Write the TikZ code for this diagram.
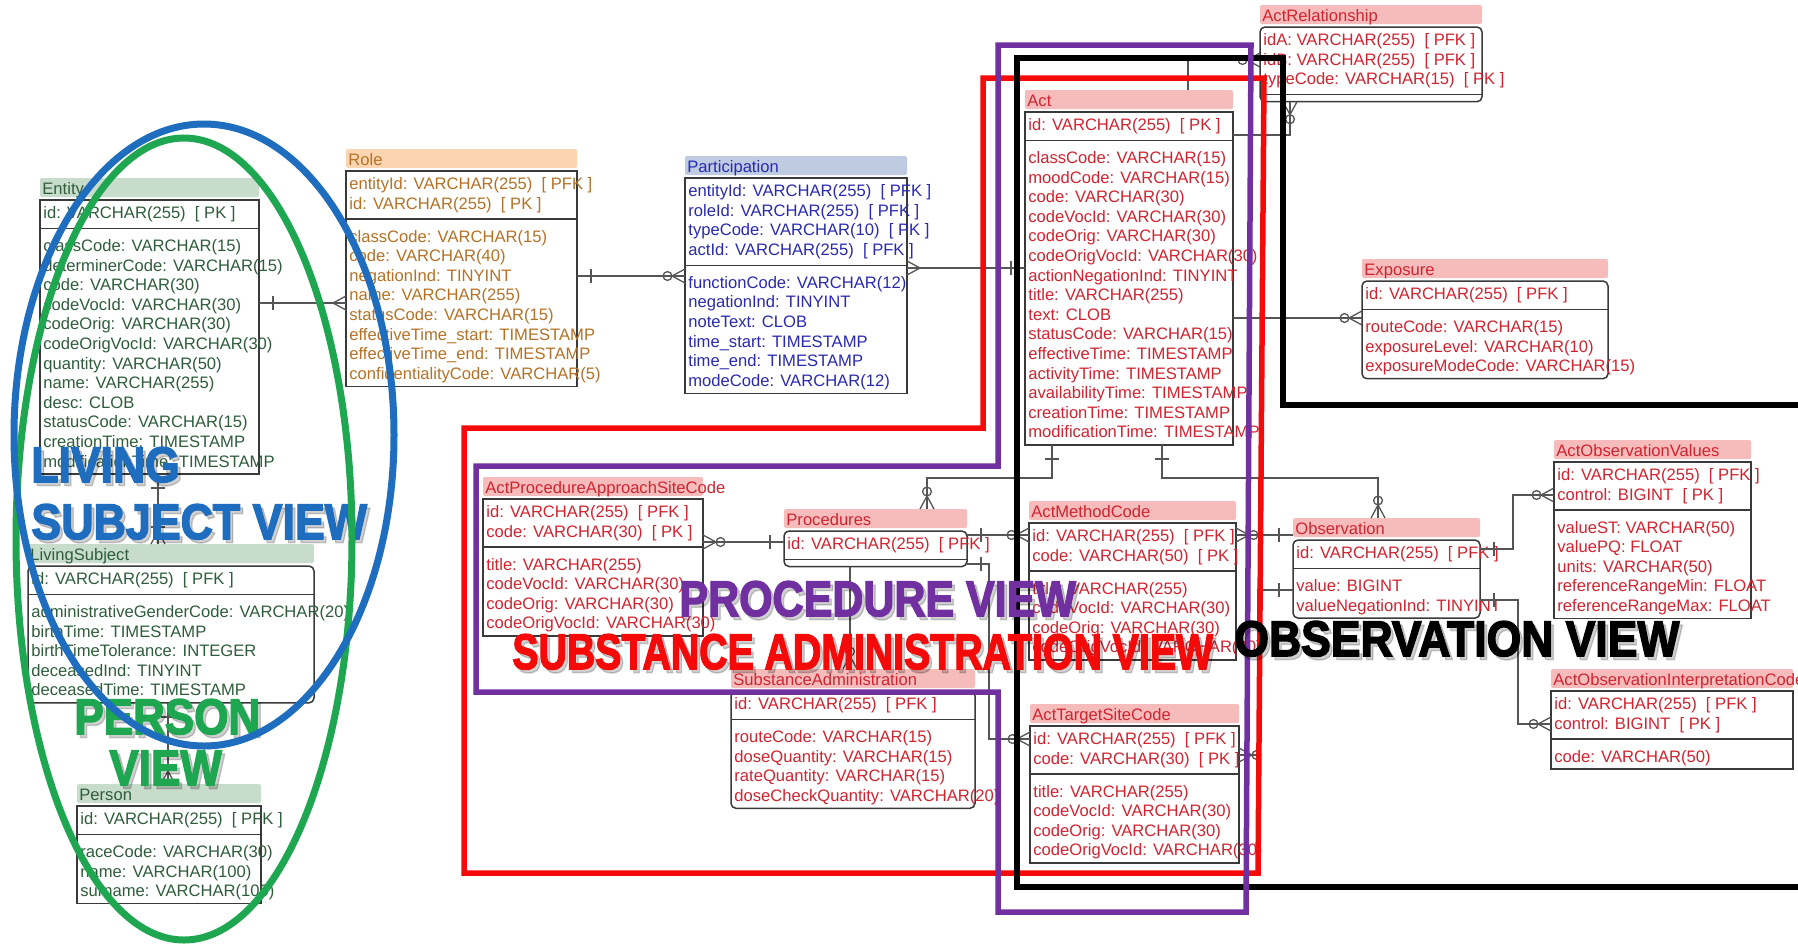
\documentclass[tikz,border=0pt]{standalone}
\usepackage{fontspec}
\setmainfont{Liberation Sans}
\newfontfamily\viewfont{Liberation Sans}[BoldFeatures={FakeBold=3}]
\usepackage{graphicx}

% group colours
\definecolor{entfill}{HTML}{C8DCCB}
\definecolor{enttext}{HTML}{2F5D3C}
\definecolor{rolefill}{HTML}{FBD5B0}
\definecolor{roletext}{HTML}{B57226}
\definecolor{partfill}{HTML}{BFCBE0}
\definecolor{parttext}{HTML}{2A2AB0}
\definecolor{actfill}{HTML}{F6BCBC}
\definecolor{acttext}{HTML}{D02430}
\definecolor{boxgray}{HTML}{3A3A3A}
\definecolor{conngray}{HTML}{555555}
\definecolor{viewblue}{HTML}{1F6DBE}
\definecolor{viewgreen}{HTML}{1EA650}
\definecolor{viewpurple}{HTML}{7030A0}
\definecolor{viewred}{HTML}{F50A0A}

\tikzset{
  tblbox/.style={draw=boxgray, line width=0.75pt, anchor=north west, inner sep=0pt, outer sep=0pt},
  hdrband/.style={anchor=north west, inner sep=0pt, outer sep=0pt, minimum height=9.5pt, rounded corners=1pt},
  hdrtxt/.style={anchor=base west, inner sep=0pt, font=\fontsize{8.3pt}{9.8pt}\selectfont},
  rowtxt/.style={anchor=base west, inner sep=0pt, font=\fontsize{8.3pt}{9.8pt}\selectfont},
  tblrule/.style={draw=boxgray, line width=0.75pt},
  conn/.style={draw=conngray, line width=0.65pt},
  ent-h/.style={fill=entfill}, ent-t/.style={text=enttext},
  role-h/.style={fill=rolefill}, role-t/.style={text=roletext},
  part-h/.style={fill=partfill}, part-t/.style={text=parttext},
  act-h/.style={fill=actfill}, act-t/.style={text=acttext},
  rnd/.style={rounded corners=2.5pt},
  viewline/.style={line width=2.75pt},
  ellline/.style={line width=3.5pt},
  biglbl/.style={anchor=base west, inner sep=0pt, font=\viewfont\fontsize{25pt}{25pt}\selectfont\bfseries},
  % relationship ends, drawn with the table on the left and the line leaving to the right
  mk one/.pic={\draw[conn] (14,-7) -- (14,7);},
  mk many/.pic={\draw[conn] (0,-7) -- (13,0) -- (0,7);},
  mk zmany/.pic={\draw[conn] (0,-7) -- (13,0) -- (0,7); \draw[conn] (17.5,0) circle[radius=2.2pt];},
  mk omany/.pic={\draw[conn] (0,-7) -- (13,0) -- (0,7); \draw[conn] (17,-7) -- (17,7);},
}

% #1 name, #2 x, #3 box top, #4 width, #5 group, #6 title, #7 key rows, #8 other rows, #9 box options
\newcommand\erTable[9]{%
  \foreach \rtext [count=\ri] in {#7} {\xdef\erNpk{\ri}}%
  \gdef\erNat{0}%
  \ifx\relax#8\relax\else\foreach \rtext [count=\ri] in {#8} {\xdef\erNat{\ri}}\fi
  \pgfmathsetmacro\erPK{#3+18.5+(\erNpk-1)*19.6+10}%
  \pgfmathsetmacro\erBot{\erNat>0 ? \erPK+23+(\erNat-1)*19.6+7 : \erPK+7}%
  \pgfmathsetmacro\erH{(\erBot-#3)*0.5}%
  \node[hdrband, #5-h, minimum width=#4*0.5pt] (#1-h) at (#2,#3-22) {};
  \node[hdrtxt, #5-t] (#1-t) at (#2+2,#3-5.5) {#6};
  \node[tblbox, #9, minimum width=#4*0.5pt, minimum height=\erH pt] (#1) at (#2,#3) {};
  \draw[tblrule] (#2,\erPK) -- (#2+#4,\erPK);
  \foreach \rtext [count=\ri] in {#7} {\node[rowtxt, #5-t] (#1-k\ri) at ({#2+3},{#3+18.5+(\ri-1)*19.6}) {\rtext};}
  \ifx\relax#8\relax\else\foreach \rtext [count=\ri] in {#8} {\node[rowtxt, #5-t] (#1-a\ri) at ({#2+3},{\erPK+23+(\ri-1)*19.6}) {\rtext};}\fi
}

% heavy view caption with a drop shadow
% #1 name, #2 x, #3 baseline, #4 colour, #5 horizontal scale, #6 text
\newcommand\bigLabel[6]{%
  \node[biglbl, text=black, opacity=0.18] (#1-s) at (#2+3,#3+3.5) {\scalebox{#5}[1]{#6}};
  \node[biglbl, text=#4] (#1) at (#2,#3) {\scalebox{#5}[1]{#6}};
}

\begin{document}
\begin{tikzpicture}[x=0.5pt,y=-0.5pt]
\useasboundingbox (0,0) rectangle (1798,944);
\fill[white] (0,0) rectangle (1798,944);
\clip (0,0) rectangle (1798,944);

% ---------- tables ----------
\erTable{entity}{40}{200}{219}{ent}{Entity}{id: VARCHAR(255)\ \ [ PK ]}%
 {classCode: VARCHAR(15), determinerCode: VARCHAR(15), code: VARCHAR(30), codeVocId: VARCHAR(30), codeOrig: VARCHAR(30), codeOrigVocId: VARCHAR(30), quantity: VARCHAR(50), name: VARCHAR(255), desc: CLOB, statusCode: VARCHAR(15), creationTime: TIMESTAMP, modificationTime: TIMESTAMP}{}

\erTable{role}{346}{171}{231}{role}{Role}{entityId: VARCHAR(255)\ \ [ PFK ], id: VARCHAR(255)\ \ [ PK ]}%
 {classCode: VARCHAR(15), code: VARCHAR(40), negationInd: TINYINT, name: VARCHAR(255), statusCode: VARCHAR(15), effectiveTime\_start: TIMESTAMP, effectiveTime\_end: TIMESTAMP, confidentialityCode: VARCHAR(5)}{}

\erTable{part}{685}{178}{222}{part}{Participation}{entityId: VARCHAR(255)\ \ [ PFK ], roleId: VARCHAR(255)\ \ [ PFK ], typeCode: VARCHAR(10)\ \ [ PK ], actId: VARCHAR(255)\ \ [ PFK ]}%
 {functionCode: VARCHAR(12), negationInd: TINYINT, noteText: CLOB, time\_start: TIMESTAMP, time\_end: TIMESTAMP, modeCode: VARCHAR(12)}{}

\erTable{act}{1025}{112}{208}{act}{Act}{id: VARCHAR(255)\ \ [ PK ]}%
 {classCode: VARCHAR(15), moodCode: VARCHAR(15), code: VARCHAR(30), codeVocId: VARCHAR(30), codeOrig: VARCHAR(30), codeOrigVocId: VARCHAR(30), actionNegationInd: TINYINT, title: VARCHAR(255), text: CLOB, statusCode: VARCHAR(15), effectiveTime: TIMESTAMP, activityTime: TIMESTAMP, availabilityTime: TIMESTAMP, creationTime: TIMESTAMP, modificationTime: TIMESTAMP}{}

\erTable{ar}{1260}{27}{222}{act}{ActRelationship}{idA: VARCHAR(255)\ \ [ PFK ], idB: VARCHAR(255)\ \ [ PFK ], typeCode: VARCHAR(15)\ \ [ PK ]}{}{rnd}

\erTable{expo}{1362}{281}{246}{act}{Exposure}{id: VARCHAR(255)\ \ [ PFK ]}%
 {routeCode: VARCHAR(15), exposureLevel: VARCHAR(10), exposureModeCode: VARCHAR(15)}{rnd}

\erTable{ls}{28}{566}{286}{ent}{LivingSubject}{id: VARCHAR(255)\ \ [ PFK ]}%
 {administrativeGenderCode: VARCHAR(20), birthTime: TIMESTAMP, birthTimeTolerance: INTEGER, deceasedInd: TINYINT, deceasedTime: TIMESTAMP}{rnd}

\erTable{person}{77}{806}{184}{ent}{Person}{id: VARCHAR(255)\ \ [ PFK ]}%
 {raceCode: VARCHAR(30), name: VARCHAR(100), surname: VARCHAR(100)}{}

\erTable{apasc}{483}{499}{220}{act}{ActProcedureApproachSiteCode}{id: VARCHAR(255)\ \ [ PFK ], code: VARCHAR(30)\ \ [ PK ]}%
 {title: VARCHAR(255), codeVocId: VARCHAR(30), codeOrig: VARCHAR(30), codeOrigVocId: VARCHAR(30)}{}

\erTable{proc}{784}{531}{183}{act}{Procedures}{id: VARCHAR(255)\ \ [ PFK ]}{}{rnd}

\erTable{sa}{731}{691}{244}{act}{SubstanceAdministration}{id: VARCHAR(255)\ \ [ PFK ]}%
 {routeCode: VARCHAR(15), doseQuantity: VARCHAR(15), rateQuantity: VARCHAR(15), doseCheckQuantity: VARCHAR(20)}{rnd}

\erTable{amc}{1029}{523}{207}{act}{ActMethodCode}{id: VARCHAR(255)\ \ [ PFK ], code: VARCHAR(50)\ \ [ PK ]}%
 {title: VARCHAR(255), codeVocId: VARCHAR(30), codeOrig: VARCHAR(30), codeOrigVocId: VARCHAR(30)}{}

\erTable{atsc}{1030}{726}{209}{act}{ActTargetSiteCode}{id: VARCHAR(255)\ \ [ PFK ], code: VARCHAR(30)\ \ [ PK ]}%
 {title: VARCHAR(255), codeVocId: VARCHAR(30), codeOrig: VARCHAR(30), codeOrigVocId: VARCHAR(30)}{}

\erTable{obs}{1293}{540}{187}{act}{Observation}{id: VARCHAR(255)\ \ [ PFK ]}%
 {value: BIGINT, valueNegationInd: TINYINT}{rnd}

\erTable{aov}{1554}{462}{197}{act}{ActObservationValues}{id: VARCHAR(255)\ \ [ PFK ], control: BIGINT\ \ [ PK ]}%
 {valueST: VARCHAR(50), valuePQ: FLOAT, units: VARCHAR(50), referenceRangeMin: FLOAT, referenceRangeMax: FLOAT}{}

\erTable{aoic}{1551}{691}{242}{act}{ActObservationInterpretationCode}{id: VARCHAR(255)\ \ [ PFK ], control: BIGINT\ \ [ PK ]}%
 {code: VARCHAR(50)}{}

% ---------- relationships ----------
\draw[conn] (entity.east |- 0,303) -- (role.west |- 0,303);
\pic at (entity.east |- 0,303) {mk one};
\pic[rotate=180] at (role.west |- 0,303) {mk many};

\draw[conn] (role.east |- 0,276) -- (part.west |- 0,276);
\pic at (role.east |- 0,276) {mk one};
\pic[rotate=180] at (part.west |- 0,276) {mk zmany};

\draw[conn] (part.east |- 0,268) -- (act.west |- 0,268);
\pic at (part.east |- 0,268) {mk many};
\pic[rotate=180] at (act.west |- 0,268) {mk one};

\draw[conn] (entity.south -| 158,0) -- (ls-h.north -| 158,0);
\pic[rotate=-90] at (entity.south -| 158,0) {mk one};
\pic[rotate=90] at (ls-h.north -| 158,0) {mk omany};

\draw[conn] (ls.south -| 168,0) -- (person-h.north -| 168,0);
\pic[rotate=-90] at (ls.south -| 168,0) {mk one};
\pic[rotate=90] at (person-h.north -| 168,0) {mk omany};

\draw[conn] (act-h.north -| 1188,0) |- (ar.west |- 0,60);
\pic[rotate=180] at (ar.west |- 0,60) {mk zmany};
\draw[conn] (act.east |- 0,135) -| (ar.south -| 1290,0);
\pic[rotate=-90] at (ar.south -| 1290,0) {mk zmany};

\draw[conn] (act.east |- 0,318) -- (expo.west |- 0,318);
\pic[rotate=180] at (expo.west |- 0,318) {mk zmany};

\draw[conn] (act.south -| 1052,0) |- (927,478) -- (proc-h.north -| 927,0);
\pic[rotate=-90] at (act.south -| 1052,0) {mk one};
\pic[rotate=90] at (proc-h.north -| 927,0) {mk zmany};

\draw[conn] (act.south -| 1162,0) |- (1378,478) -- (obs-h.north -| 1378,0);
\pic[rotate=-90] at (act.south -| 1162,0) {mk one};
\pic[rotate=90] at (obs-h.north -| 1378,0) {mk zmany};

\draw[conn] (apasc.east |- 0,542) -- (proc.west |- 0,542);
\pic at (apasc.east |- 0,542) {mk zmany};
\pic[rotate=180] at (proc.west |- 0,542) {mk one};

\draw[conn] (proc.south -| 850,0) -- (sa-h.north -| 850,0);
\pic[rotate=90] at (sa-h.north -| 850,0) {mk zmany};

\draw[conn] (proc.east |- 0,535) -- (amc.west |- 0,535);
\pic at (proc.east |- 0,535) {mk one};
\pic[rotate=180] at (amc.west |- 0,535) {mk zmany};

\draw[conn] (proc.east |- 0,564) -| (989,739) -- (atsc.west |- 0,739);
\pic at (proc.east |- 0,564) {mk one};
\pic[rotate=180] at (atsc.west |- 0,739) {mk zmany};

\draw[conn] (amc.east |- 0,535) -- (obs.west |- 0,535);
\pic at (amc.east |- 0,535) {mk zmany};
\pic[rotate=180] at (obs.west |- 0,535) {mk one};

\draw[conn] (atsc.east |- 0,755) -| (1258,590) -- (obs.west |- 0,590);
\pic at (atsc.east |- 0,755) {mk zmany};
\pic[rotate=180] at (obs.west |- 0,590) {mk one};

\draw[conn] (obs.east |- 0,549) -| (1513,495) -- (aov.west |- 0,495);
\pic at (obs.east |- 0,549) {mk one};
\pic[rotate=180] at (aov.west |- 0,495) {mk zmany};

\draw[conn] (obs.east |- 0,600) -| (1518,724) -- (aoic.west |- 0,724);
\pic at (obs.east |- 0,600) {mk one};
\pic[rotate=180] at (aoic.west |- 0,724) {mk zmany};

% ---------- view outlines ----------
\draw[viewline, viewred] (983,78) -- (1264,78) -- (1258,873) -- (464,873) -- (464,428) -- (983,428) -- cycle;
\draw[viewline, black] (1810,405) -- (1283,405) -- (1283,58) -- (1017,58) -- (1017,887) -- (1810,887);
\draw[viewline, viewpurple] (998,45) -- (1251,45) -- (1246,912) -- (998,912) -- (998,692) -- (476,692) -- (476,466) -- (998,466) -- cycle;

% ---------- view labels ----------
\bigLabel{lblLiving}{31}{482}{viewblue}{0.89}{LIVING}
\bigLabel{lblSubject}{31}{539}{viewblue}{0.895}{SUBJECT VIEW}
\bigLabel{lblPerson}{74}{734}{viewgreen}{0.88}{PERSON}
\bigLabel{lblPersonView}{109}{785}{viewgreen}{0.88}{VIEW}
\bigLabel{lblProc}{679}{616}{viewpurple}{0.86}{PROCEDURE VIEW}
\bigLabel{lblSubst}{512}{669}{viewred}{0.785}{SUBSTANCE ADMINISTRATION VIEW}
\bigLabel{lblObs}{1234}{656}{black}{0.89}{OBSERVATION VIEW}

% ---------- subject ellipses ----------
\draw[ellline, viewgreen] (184,539) ellipse [x radius=84pt, y radius=200.5pt];
\draw[ellline, viewblue] (204,435) ellipse [x radius=95pt, y radius=155.5pt];
\end{tikzpicture}
\end{document}
